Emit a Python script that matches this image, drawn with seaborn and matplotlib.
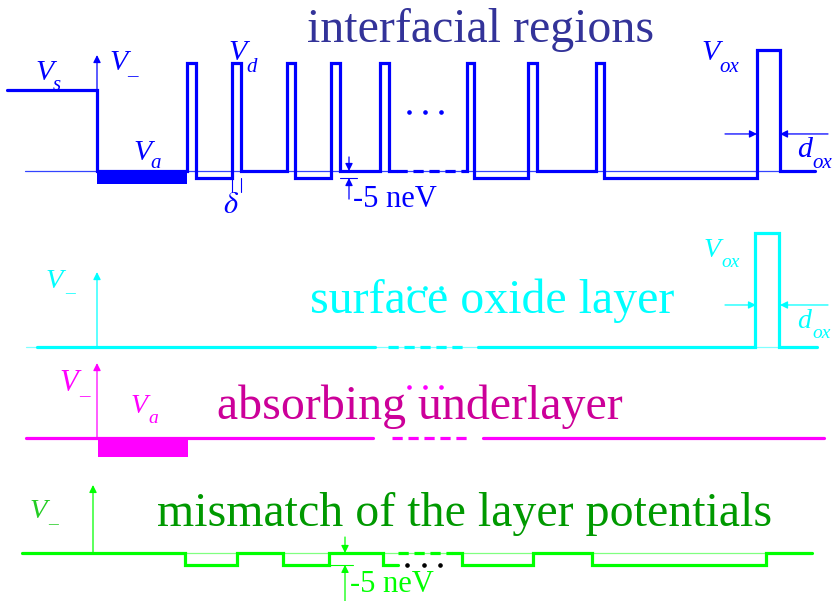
import matplotlib
matplotlib.use("Agg")
import matplotlib.pyplot as plt
import seaborn as sns

sns.set_theme(style="white")
plt.rcParams['font.family'] = ['Liberation Serif', 'DejaVu Serif']
plt.rcParams['mathtext.fontset'] = 'stix'

W, H = 834, 601
S = 108.0  # pixels per potential unit

# ---------------- data (potential levels in units of V_d) ----------------
V_d = 1.0
V_s = 0.75
V_ox_top = 1.12
dip_top = -0.065
V_a_top = -0.12
V_ox_cyan = 1.056
V_a_mag = -0.18
dip_green = -0.11

# top panel profile: two solid pieces separated by a dashed gap
top_edges_a = [7, 97, 187, 196, 232, 241, 287, 295, 331, 340, 380, 389, 397]
top_levels_a = [V_s, 0, V_d, dip_top, V_d, 0, V_d, dip_top, V_d, 0, V_d, 0]
top_edges_b = [463, 467, 474, 528, 537, 596, 604, 757, 780, 815]
top_levels_b = [0, V_d, dip_top, V_d, 0, V_d, dip_top, V_ox_top, 0]
top_gap = [397, 463]
top_block = [97, 187]

cyan_edges_a = [37, 375]
cyan_levels_a = [0]
cyan_edges_b = [478, 755, 779, 817]
cyan_levels_b = [0, V_ox_cyan, 0]
cyan_gap = [388, 467]

mag_edges_a = [26, 373]
mag_levels_a = [0]
mag_edges_b = [483, 824]
mag_levels_b = [0]
mag_gap = [392, 469]
mag_block = [98, 188]

green_edges_a = [22, 185, 237, 283, 329, 383, 398]
green_levels_a = [0, dip_green, 0, dip_green, 0, dip_green]
green_edges_b = [452, 462, 533, 592, 766, 812]
green_levels_b = [0, dip_green, 0, dip_green, 0]
green_gap = [398, 452]

dots_x_top = [409, 425, 441]
dots_x_green = [407, 424, 440]

BLUE = '#0000FF'
CYAN = '#00FFFF'
MAG = '#FF00FF'
GREEN = '#00FF00'

fig = plt.figure(figsize=(W / 100, H / 100), dpi=100)
fig.patch.set_facecolor('white')


def panel(top_px, bottom_px, base_px):
    ax = fig.add_axes([0, 1 - bottom_px / H, 1, (bottom_px - top_px) / H])
    ax.set_xlim(0, W)
    ax.set_ylim(-(bottom_px - base_px) / S, (base_px - top_px) / S)
    ax.axis('off')
    ax.patch.set_alpha(0)
    return ax


def step_xy(edges, levels):
    xs, ys = [], []
    for i, lv in enumerate(levels):
        xs += [edges[i], edges[i + 1]]
        ys += [lv, lv]
    return xs, ys


def profile(ax, edges, levels, color, lw=2.3):
    xs, ys = step_xy(edges, levels)
    sns.lineplot(x=xs, y=ys, sort=False, estimator=None, ax=ax, color=color,
                 linewidth=lw, clip_on=False, solid_joinstyle='miter')


def dashed(ax, span, level, color, lw=2.3):
    ax.plot(span, [level, level], color=color, lw=lw, linestyle=(0, (3.2, 1.8)),
            clip_on=False)


def arrow(ax, tail, head, color, lw=0.9):
    ax.annotate('', xy=head, xytext=tail, annotation_clip=False,
                arrowprops=dict(arrowstyle='-|>', color=color, lw=lw,
                                mutation_scale=11, shrinkA=0, shrinkB=0))


def T(x, y, s, color, size, ha='left', **kw):
    fig.text(x / W, 1 - y / H, s, color=color, fontsize=size, ha=ha,
             va='baseline', **kw)


def lab(x, y, main, sub, color, size, dx, dy, subsize, sub_italic=True):
    T(x, y, main, color, size, style='italic')
    T(x + dx, y + dy, sub, color, subsize,
      style='italic' if sub_italic else 'normal')


# ---------------- top panel: interfacial regions ----------------
ax1 = panel(0, 215, 171)
ax1.plot([25, 815], [0, 0], color='#3344FF', lw=0.9, clip_on=False)
ax1.fill_between(top_block, V_a_top, 0, color=BLUE, lw=0)
profile(ax1, top_edges_a, top_levels_a, BLUE)
profile(ax1, top_edges_b, top_levels_b, BLUE)
dashed(ax1, top_gap, 0, BLUE)
ax1.plot(dots_x_top, [0.546] * 3, 'o', color=BLUE, ms=2.3, clip_on=False)
arrow(ax1, (97, V_s), (97, 1.074), BLUE)
arrow(ax1, (725, 0.343), (757, 0.343), BLUE)
arrow(ax1, (828, 0.343), (780, 0.343), BLUE)
arrow(ax1, (349, 0.13), (349, 0.0), BLUE)
arrow(ax1, (349, -0.26), (349, dip_top), BLUE)
ax1.plot([340, 357], [dip_top, dip_top], color=BLUE, lw=0.8, clip_on=False)
ax1.plot([232, 232], [dip_top, -0.194], color=BLUE, lw=0.8, clip_on=False)
ax1.plot([241, 241], [dip_top, -0.194], color=BLUE, lw=0.8, clip_on=False)

T(481, 42, 'interfacial regions', '#333399', 34.5, ha='center')
lab(35, 80, 'V', 's', BLUE, 21.5, 18, 10, 15)
lab(109, 70, 'V', '\u2013', BLUE, 21.5, 18, 11, 15, sub_italic=False)
lab(228, 60, 'V', 'd', BLUE, 21.5, 18, 12, 15)
lab(133, 160, 'V', 'a', BLUE, 21.5, 17, 8, 15)
lab(701, 60, 'V', 'ox', BLUE, 21.5, 18, 12, 15)
lab(797, 157, 'd', 'ox', BLUE, 21.5, 15, 11, 15)
T(231, 213, r'$\delta$', BLUE, 22, ha='center')
T(353, 207, '-5 neV', BLUE, 22)

# ---------------- cyan panel: surface oxide layer ----------------
ax2 = panel(215, 365, 347)
ax2.plot([26, 817], [0, 0], color='#80FFFF', lw=0.9, clip_on=False)
profile(ax2, cyan_edges_a, cyan_levels_a, CYAN)
profile(ax2, cyan_edges_b, cyan_levels_b, CYAN)
dashed(ax2, cyan_gap, 0, CYAN)
ax2.plot(dots_x_top, [0.546] * 3, 'o', color=CYAN, ms=2.3, clip_on=False)
arrow(ax2, (97, 0), (97, 0.694), CYAN)
arrow(ax2, (725, 0.389), (756, 0.389), CYAN)
arrow(ax2, (828, 0.389), (780, 0.389), CYAN)

T(492, 313, 'surface oxide layer', CYAN, 34.5, ha='center')
lab(46, 288, 'V', '\u2013', CYAN, 20.5, 19, 10, 14, sub_italic=False)
lab(704, 257, 'V', 'ox', CYAN, 20, 17, 10, 14)
lab(797, 328, 'd', 'ox', CYAN, 20, 15, 10, 14)

# ---------------- magenta panel: absorbing underlayer ----------------
ax3 = panel(365, 470, 438)
ax3.fill_between(mag_block, V_a_mag, 0, color=MAG, lw=0)
profile(ax3, mag_edges_a, mag_levels_a, MAG)
profile(ax3, mag_edges_b, mag_levels_b, MAG)
dashed(ax3, mag_gap, 0, MAG)
ax3.plot(dots_x_top, [0.472] * 3, 'o', color=MAG, ms=2.3, clip_on=False)
arrow(ax3, (97, 0), (97, 0.694), MAG)

T(420, 419, 'absorbing underlayer', '#CC0099', 34.5, ha='center')
lab(59, 391, 'V', '\u2013', MAG, 22, 20, 10, 15, sub_italic=False)
lab(131, 413, 'V', 'a', MAG, 20, 17, 10, 14)

# ---------------- green panel: mismatch of the layer potentials ----------------
ax4 = panel(470, 601, 553)
ax4.plot([22, 812], [0, 0], color='#80FF80', lw=0.9, clip_on=False)
profile(ax4, green_edges_a, green_levels_a, GREEN)
profile(ax4, green_edges_b, green_levels_b, GREEN)
dashed(ax4, green_gap, 0, GREEN)
ax4.plot(dots_x_green, [dip_green] * 3, 'o', color='black', ms=2.3, clip_on=False)
arrow(ax4, (93, 0), (93, 0.63), GREEN)
arrow(ax4, (345, 0.148), (345, 0.0), GREEN)
arrow(ax4, (345, -0.444), (345, dip_green), GREEN)
ax4.plot([329, 353], [dip_green, dip_green], color=GREEN, lw=0.8, clip_on=False)

T(465, 526, 'mismatch of the layer potentials', '#009900', 34.5, ha='center')
lab(30, 518, 'V', '\u2013', '#22CC22', 20.5, 18, 11, 14, sub_italic=False)
T(350, 592, '-5 neV', GREEN, 22)

fig.savefig('out.png', dpi=100, facecolor='white')
